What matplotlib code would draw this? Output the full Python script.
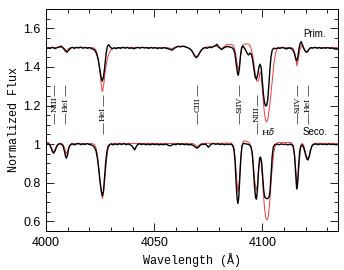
import numpy as np
import matplotlib
matplotlib.use('Agg')
import matplotlib.pyplot as plt
from matplotlib.ticker import MultipleLocator, FuncFormatter

# (wavelength, flux); primary shifted by +0.5
prim_obs = [
  (4000.0, 1.494), (4001.0, 1.499), (4002.0, 1.496), (4003.0, 1.502), (4004.0, 1.495), (4005.0, 1.499),
  (4006.0, 1.504), (4007.0, 1.508), (4008.0, 1.497), (4008.9, 1.483), (4009.7, 1.476), (4010.5, 1.487),
  (4011.4, 1.498), (4012.3, 1.501), (4013.2, 1.496), (4014.1, 1.502), (4015.0, 1.498), (4016.0, 1.503),
  (4017.0, 1.497), (4018.0, 1.501), (4019.0, 1.497), (4020.0, 1.500), (4021.0, 1.495), (4022.0, 1.491),
  (4022.8, 1.482), (4023.5, 1.465), (4024.2, 1.435), (4024.8, 1.395), (4025.4, 1.352), (4026.0, 1.326),
  (4026.6, 1.348), (4027.2, 1.405), (4027.8, 1.470), (4028.4, 1.508), (4029.0, 1.515), (4029.8, 1.502),
  (4030.6, 1.494), (4031.5, 1.499), (4032.5, 1.495), (4033.5, 1.500), (4034.5, 1.496), (4035.5, 1.502),
  (4036.5, 1.497), (4037.5, 1.501), (4038.5, 1.496), (4039.5, 1.499), (4040.5, 1.494), (4041.5, 1.498),
  (4042.5, 1.501), (4043.5, 1.497), (4044.5, 1.502), (4045.5, 1.498), (4046.5, 1.500), (4047.5, 1.496),
  (4048.5, 1.501), (4049.5, 1.497), (4050.5, 1.500), (4051.5, 1.495), (4052.5, 1.499), (4053.5, 1.496),
  (4054.5, 1.500), (4055.5, 1.497), (4056.5, 1.494), (4057.5, 1.490), (4058.3, 1.487), (4059.2, 1.495),
  (4060.2, 1.503), (4061.2, 1.507), (4062.2, 1.504), (4063.2, 1.508), (4064.2, 1.505), (4065.2, 1.501),
  (4066.2, 1.496), (4067.2, 1.487), (4068.2, 1.468), (4069.0, 1.452), (4069.6, 1.448), (4070.3, 1.457),
  (4071.0, 1.472), (4071.8, 1.487), (4072.6, 1.496), (4073.5, 1.500), (4074.5, 1.497), (4075.5, 1.502),
  (4076.5, 1.500), (4077.5, 1.506), (4078.3, 1.510), (4079.0, 1.517), (4079.8, 1.505), (4080.6, 1.494),
  (4081.3, 1.490), (4082.1, 1.498), (4083.0, 1.503), (4084.0, 1.506), (4085.0, 1.503), (4086.0, 1.500),
  (4086.8, 1.490), (4087.4, 1.465), (4088.0, 1.410), (4088.5, 1.370), (4088.9, 1.357), (4089.4, 1.390),
  (4089.9, 1.455), (4090.4, 1.498), (4090.9, 1.509), (4091.6, 1.500), (4092.4, 1.485), (4093.1, 1.468),
  (4093.7, 1.462), (4094.3, 1.472), (4094.9, 1.466), (4095.5, 1.440), (4096.1, 1.390), (4096.7, 1.348),
  (4097.3, 1.336), (4097.9, 1.362), (4098.5, 1.402), (4099.0, 1.414), (4099.5, 1.395), (4100.0, 1.330),
  (4100.5, 1.260), (4101.0, 1.215), (4101.5, 1.198), (4102.0, 1.200), (4102.5, 1.230), (4103.0, 1.300),
  (4103.5, 1.385), (4104.0, 1.450), (4104.6, 1.488), (4105.3, 1.497), (4106.2, 1.494), (4107.2, 1.499),
  (4108.2, 1.496), (4109.2, 1.501), (4110.2, 1.497), (4111.2, 1.493), (4112.2, 1.498), (4113.2, 1.496),
  (4114.0, 1.490), (4114.8, 1.472), (4115.4, 1.445), (4115.9, 1.431), (4116.4, 1.450), (4116.9, 1.490),
  (4117.4, 1.518), (4118.0, 1.531), (4118.7, 1.510), (4119.5, 1.488), (4120.3, 1.476), (4120.9, 1.478),
  (4121.6, 1.492), (4122.4, 1.500), (4123.3, 1.497), (4124.3, 1.501), (4125.3, 1.497), (4126.3, 1.500),
  (4127.3, 1.496), (4128.3, 1.499), (4129.3, 1.497), (4130.3, 1.500), (4131.3, 1.496), (4132.3, 1.498),
  (4133.3, 1.494), (4134.3, 1.492), (4135.0, 1.493)]

prim_mod = [
  (4000.0, 1.500), (4007.5, 1.501), (4008.5, 1.495), (4009.4, 1.485), (4010.3, 1.494), (4011.5, 1.500),
  (4021.5, 1.500), (4022.5, 1.496), (4023.3, 1.482), (4024.0, 1.450), (4024.7, 1.395), (4025.4, 1.320),
  (4026.0, 1.272), (4026.6, 1.300), (4027.2, 1.360), (4027.8, 1.410), (4028.5, 1.448), (4029.3, 1.475),
  (4030.2, 1.490), (4031.3, 1.497), (4033.0, 1.500), (4040.0, 1.501), (4050.0, 1.500), (4056.0, 1.500),
  (4058.0, 1.495), (4059.5, 1.500), (4061.0, 1.505), (4064.0, 1.505), (4066.0, 1.497), (4067.5, 1.485),
  (4068.5, 1.465), (4069.4, 1.452), (4070.3, 1.460), (4071.3, 1.478), (4072.5, 1.494), (4074.0, 1.503),
  (4077.0, 1.505), (4078.5, 1.508), (4080.0, 1.500), (4081.3, 1.496), (4082.5, 1.506), (4083.3, 1.515),
  (4086.0, 1.516), (4086.9, 1.505), (4087.6, 1.475), (4088.3, 1.420), (4088.9, 1.385), (4089.5, 1.415),
  (4090.1, 1.470), (4090.8, 1.508), (4091.6, 1.518), (4093.5, 1.519), (4094.4, 1.510), (4095.2, 1.480),
  (4096.0, 1.430), (4096.8, 1.360), (4097.5, 1.325), (4098.3, 1.330), (4099.0, 1.375), (4099.5, 1.360),
  (4100.2, 1.260), (4100.9, 1.170), (4101.5, 1.125), (4102.0, 1.115), (4102.6, 1.130), (4103.3, 1.190),
  (4104.0, 1.260), (4104.7, 1.340), (4105.4, 1.420), (4106.1, 1.470), (4106.9, 1.495), (4108.0, 1.500),
  (4113.5, 1.500), (4114.5, 1.492), (4115.3, 1.455), (4116.0, 1.405), (4116.7, 1.440), (4117.4, 1.490),
  (4118.1, 1.510), (4118.9, 1.500), (4119.7, 1.485), (4120.5, 1.478), (4121.3, 1.487), (4122.2, 1.498),
  (4123.5, 1.501), (4135.0, 1.500)]

seco_obs = [
  (4000.0, 0.996), (4000.8, 1.002), (4001.6, 0.998), (4002.3, 0.982), (4002.9, 0.963), (4003.5, 0.953),
  (4004.2, 0.965), (4004.9, 0.987), (4005.6, 0.998), (4006.4, 1.003), (4007.2, 0.998), (4007.9, 0.990),
  (4008.5, 0.965), (4009.0, 0.938), (4009.4, 0.927), (4009.9, 0.942), (4010.5, 0.978), (4011.2, 0.995),
  (4012.0, 1.002), (4013.0, 0.996), (4014.0, 1.000), (4015.0, 1.004), (4016.0, 0.997), (4017.0, 1.001),
  (4018.0, 0.998), (4019.0, 1.003), (4020.0, 0.998), (4021.0, 0.996), (4021.8, 0.991), (4022.5, 0.982),
  (4023.2, 0.962), (4023.8, 0.925), (4024.4, 0.870), (4025.0, 0.805), (4025.6, 0.755), (4026.1, 0.733),
  (4026.6, 0.760), (4027.1, 0.830), (4027.6, 0.905), (4028.1, 0.958), (4028.7, 0.988), (4029.4, 0.998),
  (4030.2, 1.001), (4031.0, 0.996), (4032.0, 1.001), (4033.0, 0.997), (4034.0, 1.002), (4035.0, 0.998),
  (4036.0, 1.003), (4037.0, 0.997), (4038.0, 1.001), (4039.0, 0.996), (4039.8, 0.990), (4040.5, 0.978),
  (4041.0, 0.970), (4041.6, 0.985), (4042.3, 0.997), (4043.2, 1.002), (4044.2, 0.998), (4045.2, 1.001),
  (4046.2, 0.997), (4047.2, 1.000), (4048.2, 0.996), (4049.2, 1.001), (4050.2, 0.997), (4051.2, 1.000),
  (4052.2, 0.996), (4053.2, 0.999), (4054.2, 0.997), (4055.2, 1.000), (4056.2, 0.996), (4057.2, 0.991),
  (4058.0, 0.994), (4059.0, 1.000), (4060.0, 0.997), (4061.0, 1.002), (4062.0, 0.998), (4063.0, 1.001),
  (4064.0, 0.997), (4065.0, 1.000), (4066.0, 0.996), (4067.0, 0.998), (4068.0, 0.994), (4069.0, 0.985),
  (4069.8, 0.979), (4070.6, 0.986), (4071.4, 0.995), (4072.2, 1.000), (4073.0, 0.998), (4073.8, 1.001),
  (4074.5, 0.992), (4075.1, 0.984), (4075.8, 0.994), (4076.6, 1.001), (4077.5, 1.003), (4078.5, 0.999),
  (4079.5, 1.002), (4080.5, 0.998), (4081.5, 1.001), (4082.5, 0.997), (4083.5, 1.000), (4084.5, 0.998),
  (4085.5, 1.000), (4086.3, 0.993), (4086.9, 0.972), (4087.4, 0.910), (4087.9, 0.800), (4088.3, 0.725),
  (4088.7, 0.693), (4089.1, 0.720), (4089.6, 0.820), (4090.1, 0.930), (4090.6, 0.990), (4091.2, 1.004),
  (4092.0, 1.003), (4093.0, 1.000), (4094.0, 0.997), (4094.8, 0.985), (4095.4, 0.950), (4095.9, 0.870),
  (4096.4, 0.780), (4096.9, 0.725), (4097.3, 0.715), (4097.8, 0.770), (4098.3, 0.870), (4098.8, 0.928),
  (4099.2, 0.933), (4099.7, 0.905), (4100.2, 0.830), (4100.7, 0.755), (4101.2, 0.725), (4101.7, 0.720),
  (4102.2, 0.717), (4102.7, 0.720), (4103.2, 0.728), (4103.6, 0.760), (4104.1, 0.850), (4104.6, 0.940),
  (4105.1, 0.985), (4105.8, 0.998), (4106.8, 1.000), (4107.8, 0.997), (4108.8, 1.001), (4109.8, 0.998),
  (4110.8, 1.000), (4111.8, 0.996), (4112.8, 1.000), (4113.6, 0.997), (4114.3, 0.988), (4114.9, 0.940),
  (4115.4, 0.850), (4115.9, 0.768), (4116.3, 0.790), (4116.8, 0.890), (4117.3, 0.965), (4117.9, 0.993),
  (4118.5, 0.996), (4119.2, 0.980), (4119.9, 0.950), (4120.5, 0.925), (4121.1, 0.918), (4121.7, 0.935),
  (4122.3, 0.968), (4123.0, 0.992), (4123.8, 0.999), (4124.8, 1.001), (4125.8, 0.997), (4126.8, 1.001),
  (4127.8, 0.998), (4128.8, 1.000), (4129.8, 0.997), (4130.8, 1.001), (4131.8, 0.998), (4132.8, 1.000),
  (4133.8, 0.997), (4135.0, 0.998)]

seco_mod = [
  (4000.0, 1.010), (4001.2, 1.008), (4002.2, 0.990), (4003.0, 0.968), (4003.6, 0.962), (4004.3, 0.975),
  (4005.2, 0.997), (4006.5, 1.004), (4007.8, 1.000), (4008.6, 0.980), (4009.3, 0.948), (4010.0, 0.965),
  (4010.8, 0.993), (4012.0, 1.003), (4021.5, 1.003), (4022.5, 0.996), (4023.3, 0.975), (4024.1, 0.910),
  (4024.9, 0.815), (4025.6, 0.745), (4026.1, 0.718), (4026.6, 0.745), (4027.3, 0.830), (4028.0, 0.920),
  (4028.7, 0.975), (4029.5, 0.997), (4030.5, 1.004), (4068.0, 1.003), (4069.2, 0.993), (4070.0, 0.986),
  (4070.9, 0.995), (4072.0, 1.004), (4085.8, 1.005), (4086.7, 0.990), (4087.4, 0.940), (4088.0, 0.840),
  (4088.7, 0.752), (4089.3, 0.800), (4089.9, 0.910), (4090.5, 0.985), (4091.3, 1.017), (4093.0, 1.014),
  (4094.2, 1.003), (4095.0, 0.975), (4095.7, 0.910), (4096.4, 0.820), (4097.1, 0.763), (4097.7, 0.785),
  (4098.3, 0.870), (4098.9, 0.925), (4099.4, 0.915), (4099.9, 0.850), (4100.5, 0.745), (4101.1, 0.660),
  (4101.7, 0.615), (4102.2, 0.606), (4102.7, 0.622), (4103.3, 0.680), (4103.9, 0.775), (4104.6, 0.880),
  (4105.3, 0.955), (4106.0, 0.993), (4107.0, 1.008), (4113.3, 1.008), (4114.3, 0.995), (4115.0, 0.940),
  (4115.6, 0.850), (4116.1, 0.797), (4116.6, 0.830), (4117.2, 0.920), (4117.8, 0.985), (4118.4, 1.005),
  (4119.1, 0.995), (4119.8, 0.965), (4120.5, 0.935), (4121.1, 0.926), (4121.7, 0.940), (4122.4, 0.975),
  (4123.2, 0.997), (4124.2, 1.004), (4135.0, 1.004)]

# line identifications
line_wave = [4003.8, 4008.9, 4026.2, 4070.0, 4089.2, 4097.4, 4116.2, 4120.9]
line_name = ['NIII', 'HeI', 'HeI', 'CIII', 'SiIV', 'NIII', 'SiIV', 'HeI']
line_mid = [1.205, 1.205, 1.155, 1.205, 1.205, 1.155, 1.205, 1.205]

fig = plt.figure(figsize=(3.44, 2.70), dpi=100)
ax = fig.add_axes([46/344, 39/270, 292/344, 222/270])

for data, col, lw, z in [(prim_mod, '#f23a3a', 0.7, 2), (seco_mod, '#f23a3a', 0.7, 2),
                         (prim_obs, 'black', 1.0, 3), (seco_obs, 'black', 1.0, 3)]:
  w, f = np.array(data).T
  ax.plot(w, f, color=col, lw=lw, zorder=z)

for w, name, m in zip(line_wave, line_name, line_mid):
  ax.text(w, m, name, rotation=90, ha='center', va='center', fontsize=5.5, family='DejaVu Serif')
  ax.vlines(w, m + 0.045, m + 0.1, color='0.3', lw=0.6)
  ax.vlines(w, m - 0.1, m - 0.045, color='0.3', lw=0.6)

ax.text(4102.6, 1.063, r'H$\delta$', ha='center', va='center', fontsize=6, family='DejaVu Serif')
ax.text(4124.0, 1.571, 'Prim.', ha='center', va='center', fontsize=7, family='Liberation Sans')
ax.text(4124.5, 1.063, 'Seco.', ha='center', va='center', fontsize=7, family='Liberation Sans')

ax.set_xlim(4000, 4135)
ax.set_ylim(0.55, 1.7)
ax.xaxis.set_major_locator(MultipleLocator(50))
ax.xaxis.set_minor_locator(MultipleLocator(10))
ax.yaxis.set_major_locator(MultipleLocator(0.2))
ax.yaxis.set_minor_locator(MultipleLocator(0.05))
ax.yaxis.set_major_formatter(FuncFormatter(lambda v, p: '%g' % round(v, 2)))
ax.tick_params(which='both', direction='in', top=True, right=True, width=0.6)
ax.tick_params(which='major', length=6, labelsize=9, pad=4)
ax.tick_params(which='minor', length=3)
for lab in ax.get_xticklabels() + ax.get_yticklabels():
  lab.set_family('Liberation Sans')
for s in ax.spines.values():
  s.set_linewidth(0.7)

ax.set_xlabel('Wavelength (Å)', family='Liberation Mono', fontsize=8.5, labelpad=3)
ax.set_ylabel('Normalized Flux', family='Liberation Mono', fontsize=8.5, labelpad=2)

fig.savefig('out.png', dpi=100)
